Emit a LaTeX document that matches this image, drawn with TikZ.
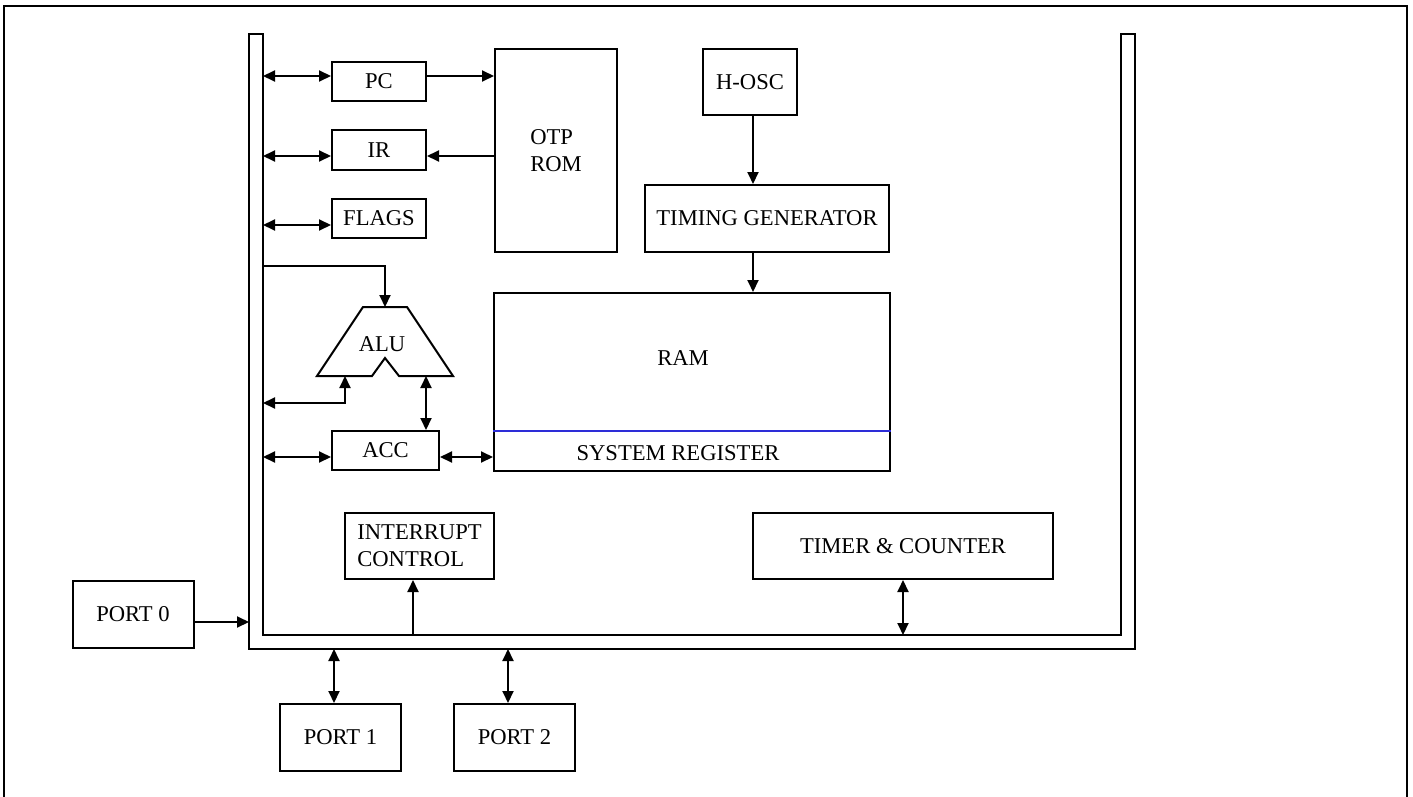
\documentclass[tikz,border=0pt]{standalone}
\usepackage{fontspec}
\setmainfont{Liberation Serif}
\usepackage{tikz}
\usetikzlibrary{arrows.meta}
\definecolor{sysblue}{RGB}{45,45,215}
\tikzstyle{block} = [rectangle, draw=black, line width=1pt, inner sep=0pt, align=center]
\tikzstyle{reg} = [block, minimum width=47pt, minimum height=19.5pt]
\tikzstyle{port} = [block, minimum width=60.5pt, minimum height=33.5pt]
\tikzstyle{wire} = [line width=1pt]

\begin{document}
\begin{tikzpicture}[x=0.5pt, y=-0.5pt, line width=1pt, font=\fontsize{11.3pt}{13.6pt}\selectfont, >={Triangle[length=6pt,width=5.5pt]}]
\useasboundingbox (0,0) rectangle (1413,797);
\draw (4,797) -- (4,6) -- (1407,6) -- (1407,797);
\draw (249,34) -- (263,34) -- (263,635) -- (1121,635) -- (1121,34) -- (1135,34) -- (1135,649) -- (249,649) -- cycle;
\coordinate (busl) at (263,34);
\coordinate (busol) at (249,34);
\coordinate (busb) at (263,635);
\coordinate (buso) at (263,649);

\node (pc) [reg] at (379,81.5) {PC};
\node (ir) [reg] at (379,150) {IR};
\node (flags) [reg] at (379,218.5) {FLAGS};
\node (otp) [block, align=left, minimum width=61pt, minimum height=101.5pt] at (556,150.5) {OTP\\ROM};
\node (hosc) [block, minimum width=47pt, minimum height=33pt] at (750,82) {H-OSC};
\node (tg) [block, minimum width=122pt, minimum height=33.5pt] at (767,218.5) {TIMING GENERATOR};
\node (ram) [block, minimum width=198pt, minimum height=89pt] at (692,382) {};
\node (ramtxt) at (683,358) {RAM};
\node (systxt) at (678,453) {SYSTEM REGISTER};
\draw[sysblue] ([yshift=20.5pt]ram.south west) -- ([yshift=20.5pt]ram.south east);
\node (acc) [block, minimum width=53.5pt, minimum height=19.5pt] at (385.5,450.5) {ACC};
\draw (363,307) -- (407,307) -- (453,376) -- (399,376) -- (385,358) -- (372,376) -- (317,376) -- cycle;
\node (alu) at (382,344) {ALU};
\coordinate (alutop) at (385,307);
\coordinate (alul) at (345,376);
\coordinate (alur) at (426,376);
\node (intc) [block, align=left, minimum width=74.5pt, minimum height=33pt] at (419.5,546) {INTERRUPT\\CONTROL};
\node (timer) [block, minimum width=150pt, minimum height=33pt] at (903,546) {TIMER \& COUNTER};
\node (port0) [port] at (133,614.5) {PORT 0};
\node (port1) [port] at (340.5,737.5) {PORT 1};
\node (port2) [port] at (514.5,737.5) {PORT 2};

\draw[wire, <->] ([yshift=2.75pt]pc.west -| busl) -- ([yshift=2.75pt]pc.west);
\draw[wire, <->] ([yshift=-3pt]ir.west -| busl) -- ([yshift=-3pt]ir.west);
\draw[wire, <->] ([yshift=-3.25pt]flags.west -| busl) -- ([yshift=-3.25pt]flags.west);
\draw[wire, ->] ([yshift=2.75pt]pc.east) -- ([yshift=2.75pt]pc.east -| otp.west);
\draw[wire, ->] ([yshift=-3pt]ir.east -| otp.west) -- ([yshift=-3pt]ir.east);
\draw[wire, ->] ([xshift=1.5pt]hosc.south) -- ([xshift=1.5pt]hosc.south |- tg.north);
\draw[wire, ->] ([xshift=-7pt]tg.south) -- ([xshift=-7pt]tg.south |- ram.north);
\draw[wire, ->] (busl |- 0,266) -| (alutop);
\draw[wire, <->] (busl |- 0,403) -| (alul);
\draw[wire, <->] (alur) -- (alur |- acc.north);
\draw[wire, <->] ([yshift=-3.25pt]acc.west -| busl) -- ([yshift=-3.25pt]acc.west);
\draw[wire, <->] ([yshift=-3.25pt]acc.east) -- ([yshift=-3.25pt]acc.east -| ram.west);
\draw[wire, ->] ([yshift=-3.75pt]port0.east) -- ([yshift=-3.75pt]port0.east -| busol);
\draw[wire, ->] ([xshift=-3.25pt]intc.south |- busb) -- ([xshift=-3.25pt]intc.south);
\draw[wire, <->] (timer.south |- busb) -- (timer.south);
\draw[wire, <->] ([xshift=-3.25pt]port1.north |- buso) -- ([xshift=-3.25pt]port1.north);
\draw[wire, <->] ([xshift=-3.25pt]port2.north |- buso) -- ([xshift=-3.25pt]port2.north);
\end{tikzpicture}
\end{document}
